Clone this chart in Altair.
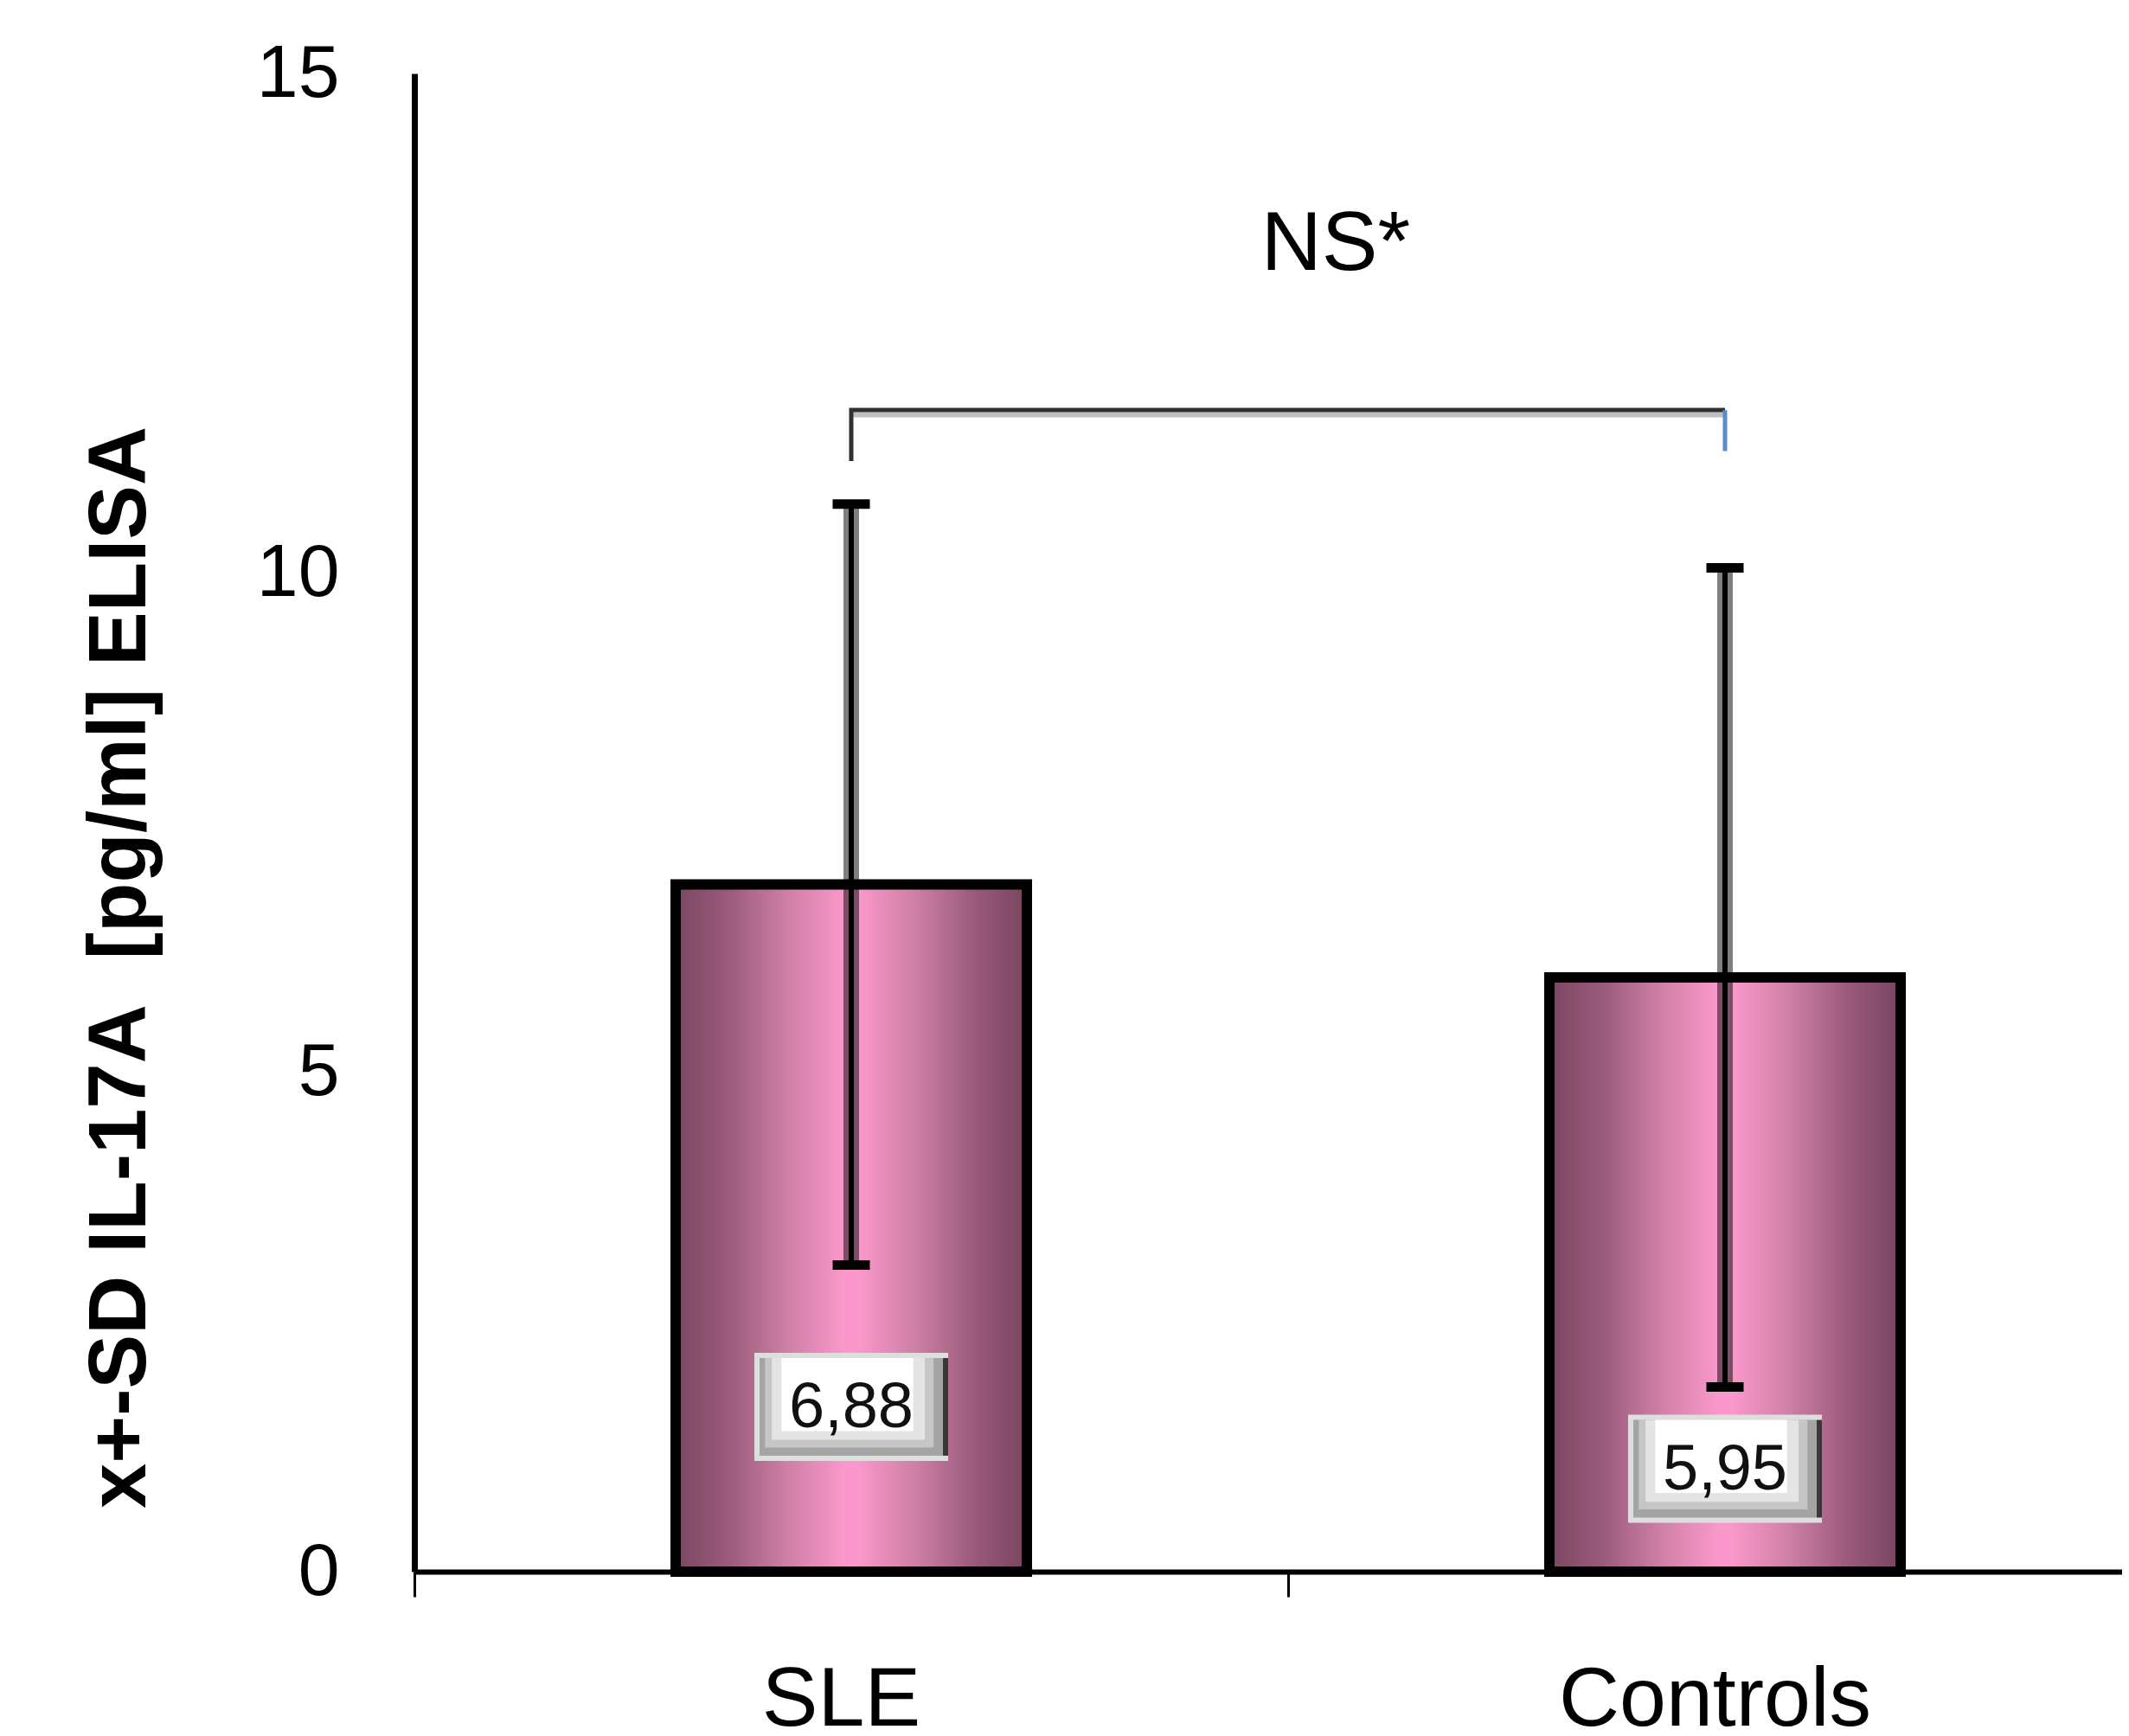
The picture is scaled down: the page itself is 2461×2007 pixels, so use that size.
import altair as alt
import pandas as pd

# ---------------- data ----------------
categories = ["SLE", "Controls"]
means = [6.88, 5.95]
sds = [3.81, 4.10]
label_y = [1.65, 1.03]            # where the value boxes sit (in y units)
y_ticks = [0, 5, 10, 15]
bracket_y = 11.63
bracket_leg_ends = [11.12, 11.22]
ns_text = "NS*"
ns_y = 13.03
y_title = "x+-SD IL-17A\u00a0 [pg/ml] ELISA"

FONT = "Liberation Sans"

df = pd.DataFrame({
    "group": categories,
    "mean": means,
    "low": [m - s for m, s in zip(means, sds)],
    "high": [m + s for m, s in zip(means, sds)],
    "label": [f"{m:.2f}".replace(".", ",") for m in means],
    "label_y": label_y,
})

bracket_main = pd.DataFrame({
    "group": [categories[0], categories[0], categories[1]],
    "y": [bracket_leg_ends[0], bracket_y, bracket_y],
    "order": [0, 1, 2],
})
bracket_right = pd.DataFrame({
    "group": [categories[1], categories[1]],
    "y": [bracket_y, bracket_leg_ends[1]],
    "order": [0, 1],
})
bracket_top = pd.DataFrame({
    "group": categories,
    "y": [bracket_y, bracket_y],
    "order": [0, 1],
})
ns_df = pd.DataFrame({"group": [categories[0]], "y": [ns_y], "t": [ns_text]})

# ---------------- shared encodings ----------------
x_scale = alt.Scale(domain=categories, range=[0, 2020], paddingInner=0, paddingOuter=0)
x_axis = alt.Axis(
    title=None, labelAngle=0, labelFont=FONT, labelFontSize=97, labelColor="black",
    labelBaseline="alphabetic", labelPadding=148, labelOffset=-12, labelLimit=0,
    ticks=True, tickSize=29, tickWidth=3, tickColor="black", tickBand="extent",
    domainColor="black", domainWidth=6, grid=False,
)
y_scale = alt.Scale(domain=[0, 15], nice=False, zero=True)
y_axis = alt.Axis(
    title=y_title, titleFont=FONT, titleFontWeight="bold", titleFontSize=94,
    titleColor="black", titleAngle=270, titleX=-312, titleY=1033,
    titleAlign="center", titleBaseline="alphabetic", titleLimit=0,
    values=y_ticks, labelFont=FONT, labelFontSize=86, labelColor="black",
    labelPadding=87, ticks=False, tickSize=0,
    domainColor="black", domainWidth=7, grid=False,
)


def X(field="group"):
    return alt.X(f"{field}:N", sort=categories, scale=x_scale, axis=x_axis)


def Y(field):
    return alt.Y(f"{field}:Q", scale=y_scale, axis=y_axis)


gradient = alt.Gradient(
    gradient="linear", x1=0, x2=1, y1=0, y2=0,
    stops=[
        alt.GradientStop(color="#7a4862", offset=0),
        alt.GradientStop(color="#9a5a7a", offset=0.15),
        alt.GradientStop(color="#cf80a6", offset=0.32),
        alt.GradientStop(color="#fa98cb", offset=0.48),
        alt.GradientStop(color="#fa98cb", offset=0.52),
        alt.GradientStop(color="#cf80a6", offset=0.68),
        alt.GradientStop(color="#9a5a7a", offset=0.85),
        alt.GradientStop(color="#784560", offset=1),
    ],
)

base = alt.Chart(df)

bars = base.mark_bar(size=406, fill=gradient, stroke="black", strokeWidth=12).encode(
    x=X(), y=Y("mean")
)

err_shadow = base.mark_rule(color="black", strokeWidth=18, opacity=0.5).encode(
    x=X(), y=Y("low"), y2="high"
)
err_line = base.mark_rule(color="black", strokeWidth=6).encode(
    x=X(), y=Y("low"), y2="high"
)
cap_low = base.mark_tick(color="black", size=43, thickness=11, opacity=1).encode(
    x=X(), y=Y("low")
)
cap_high = base.mark_tick(color="black", size=43, thickness=11, opacity=1).encode(
    x=X(), y=Y("high")
)

# value boxes (bevelled labels), custom symbol shapes in a [-1,1] box
BOX_SIZE = 224 * 224
box_shapes = [
    ("M-1,-0.558L1,-0.558L1,0.558L-1,0.558Z", "#dedede"),
    ("M0.946,-0.504L1,-0.504L1,0.504L0.946,0.504Z", "#383838"),
    ("M-0.946,-0.504L0.946,-0.504L0.946,0.504L-0.946,0.504Z", "#a4a4a4"),
    ("M-0.89,-0.504L0.85,-0.504L0.85,0.42L-0.89,0.42Z", "#c6c6c6"),
    ("M-0.82,-0.504L0.76,-0.504L0.76,0.34L-0.82,0.34Z", "#e4e4e4"),
    ("M-0.72,-0.504L0.64,-0.504L0.64,0.25L-0.72,0.25Z", "#ffffff"),
]
box_layers = [
    base.mark_point(shape=shp, size=BOX_SIZE, filled=True, fill=col,
                    strokeWidth=0, opacity=1).encode(x=X(), y=Y("label_y"))
    for shp, col in box_shapes
]
box_text = base.mark_text(font=FONT, fontSize=74, color="#111111",
                          baseline="middle", align="center", dy=2).encode(
    x=X(), y=Y("label_y"), text="label:N"
)

# significance bracket
br_shadow = alt.Chart(bracket_top).mark_line(color="#c0c0c0", strokeWidth=6, yOffset=5.5).encode(
    x=X(), y=Y("y"), order="order:Q"
)
br_main = alt.Chart(bracket_main).mark_line(color="#303030", strokeWidth=5).encode(
    x=X(), y=Y("y"), order="order:Q"
)
br_right = alt.Chart(bracket_right).mark_line(color="#5b8ac8", strokeWidth=5).encode(
    x=X(), y=Y("y"), order="order:Q"
)
ns = alt.Chart(ns_df).mark_text(font=FONT, fontSize=97, color="black",
                                baseline="alphabetic", align="center", dx=560).encode(
    x=X(), y=Y("y"), text="t:N"
)

chart = alt.layer(
    bars, err_shadow, err_line, cap_low, cap_high,
    *box_layers, box_text,
    br_shadow, br_main, br_right, ns,
).properties(
    width=1974, height=1732,
    autosize=alt.AutoSizeParams(type="none"),
    padding={"left": 471, "top": 77, "right": 0, "bottom": 182},
    background="white",
).configure_view(stroke=None)

chart.save("out.html", embed_options={"renderer": "svg", "actions": False})
